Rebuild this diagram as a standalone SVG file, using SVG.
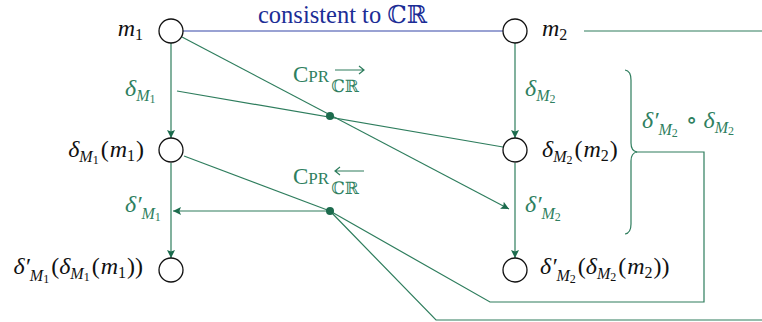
<svg xmlns="http://www.w3.org/2000/svg" width="762" height="322" viewBox="0 0 762 322">
<defs>
<style>
.ln{fill:none;stroke:#2e7d5d;stroke-width:1.2}
.bl{fill:none;stroke:#3447a8;stroke-width:1.2}
.nd{fill:#fff;stroke:#111;stroke-width:1.3}
.dot{fill:#1c6b4d}
.t{font-family:"Liberation Serif","DejaVu Serif",serif;font-size:24px;font-style:italic;fill:#111}
.e{text-anchor:end}
.g{fill:#2f7f60}
.up{font-style:normal}
.s{font-size:16px}
.ss{font-size:12px;font-style:normal}
.cp{font-family:"Liberation Serif","DejaVu Serif",serif;font-size:23px;fill:#2f7f60}
.bb{font-size:17px;font-family:"DejaVu Serif",serif;font-weight:normal}
.bt{font-family:"Liberation Serif","DejaVu Serif",serif;font-size:24.5px;fill:#1c2d96}
</style>
<marker id="ah" viewBox="0 0 10 10" refX="10" refY="5" markerWidth="10" markerHeight="8" markerUnits="userSpaceOnUse" orient="auto"><path d="M0,0 L10,5 L0,10 L2,5 Z" fill="#1c6b4d"/></marker>
</defs>
<rect width="762" height="322" fill="#fff"/>
<g id="connectors">
<line class="bl" x1="183" y1="31" x2="503" y2="31"/>
<line class="ln" x1="171" y1="43" x2="171" y2="138" marker-end="url(#ah)"/>
<line class="ln" x1="171" y1="163" x2="171" y2="258" marker-end="url(#ah)"/>
<line class="ln" x1="515" y1="43" x2="515" y2="138" marker-end="url(#ah)"/>
<line class="ln" x1="515" y1="163" x2="515" y2="258" marker-end="url(#ah)"/>
<line class="ln" x1="182" y1="37" x2="509" y2="209" marker-end="url(#ah)"/>
<line class="ln" x1="330" y1="211" x2="173" y2="211" marker-end="url(#ah)"/>
<line class="ln" x1="177" y1="91" x2="503" y2="147"/>
<line class="ln" x1="184" y1="156" x2="330" y2="211"/>
<polyline class="ln" points="330,211 490,302 704,302 704,152 636,152"/>
<polyline class="ln" points="330,211 436,320 762,320"/>
<line class="ln" x1="584" y1="31" x2="762" y2="31"/>
<path class="ln" d="M625,70 Q631,71 631,80 L631,143 Q631,151 637,152 Q631,153 631,161 L631,224 Q631,233 625,234"/>
<circle class="dot" cx="330" cy="116" r="4"/>
<circle class="dot" cx="330" cy="211" r="4"/>
<text class="bt" x="258" y="23">consistent to ℂℝ</text>
<text class="cp" x="293" y="82">C<tspan font-size="17">PR</tspan><tspan class="bb" dx="2" dy="10">ℂℝ</tspan></text>
<path class="ln" d="M335,70 H364 M359,66 L364,70 L359,74"/>
<text class="cp" x="293" y="184">C<tspan font-size="17">PR</tspan><tspan class="bb" dx="2" dy="10">ℂℝ</tspan></text>
<path class="ln" d="M335,171 H364 M340,167 L335,171 L340,175"/>
<text class="t g" x="125" y="96">δ<tspan class="s" dy="5">M</tspan><tspan class="ss" dy="2">1</tspan></text>
<text class="t g" x="525" y="96">δ<tspan class="s" dy="5">M</tspan><tspan class="ss" dy="2">2</tspan></text>
<text class="t g" x="125" y="212">δ′<tspan class="s" dy="7">M</tspan><tspan class="ss" dy="2">1</tspan></text>
<text class="t g" x="525" y="212">δ′<tspan class="s" dy="7">M</tspan><tspan class="ss" dy="2">2</tspan></text>
<text class="t g" x="642" y="128">δ′<tspan class="s" dy="7">M</tspan><tspan class="ss" dy="2">2</tspan><tspan class="up" dx="8" dy="-9">∘</tspan><tspan dx="6">δ</tspan><tspan class="s" dy="5">M</tspan><tspan class="ss" dy="2">2</tspan></text>
</g>
<g id="n-m1">
<circle class="nd" cx="171" cy="31" r="12"/>
<text class="t e" x="143" y="36">m<tspan class="s up" dy="4">1</tspan></text>
</g>
<g id="n-m2">
<circle class="nd" cx="515" cy="31" r="12"/>
<text class="t" x="542" y="36">m<tspan class="s up" dy="4">2</tspan></text>
</g>
<g id="n-dm1">
<circle class="nd" cx="171" cy="150" r="12"/>
<text class="t e" x="144" y="157">δ<tspan class="s" dy="5">M</tspan><tspan class="ss" dy="2">1</tspan><tspan class="up" dx="2" dy="-7">(</tspan><tspan dx="1">m</tspan><tspan class="s up" dy="4">1</tspan><tspan class="up" dx="1" dy="-4">)</tspan></text>
</g>
<g id="n-dm2">
<circle class="nd" cx="515" cy="150" r="12"/>
<text class="t" x="542" y="157">δ<tspan class="s" dy="5">M</tspan><tspan class="ss" dy="2">2</tspan><tspan class="up" dx="2" dy="-7">(</tspan><tspan dx="1">m</tspan><tspan class="s up" dy="4">2</tspan><tspan class="up" dx="1" dy="-4">)</tspan></text>
</g>
<g id="n-ddm1">
<circle class="nd" cx="171" cy="270" r="12"/>
<text class="t e" x="143" y="274">δ′<tspan class="s" dy="7">M</tspan><tspan class="ss" dy="2">1</tspan><tspan class="up" dx="2" dy="-9">(</tspan>δ<tspan class="s" dy="5">M</tspan><tspan class="ss" dy="2">1</tspan><tspan class="up" dx="2" dy="-7">(</tspan><tspan dx="1">m</tspan><tspan class="s up" dy="4">1</tspan><tspan class="up" dx="1" dy="-4">))</tspan></text>
</g>
<g id="n-ddm2">
<circle class="nd" cx="515" cy="270" r="12"/>
<text class="t" x="540" y="274">δ′<tspan class="s" dy="7">M</tspan><tspan class="ss" dy="2">2</tspan><tspan class="up" dx="2" dy="-9">(</tspan>δ<tspan class="s" dy="5">M</tspan><tspan class="ss" dy="2">2</tspan><tspan class="up" dx="2" dy="-7">(</tspan><tspan dx="1">m</tspan><tspan class="s up" dy="4">2</tspan><tspan class="up" dx="1" dy="-4">))</tspan></text>
</g>
</svg>
